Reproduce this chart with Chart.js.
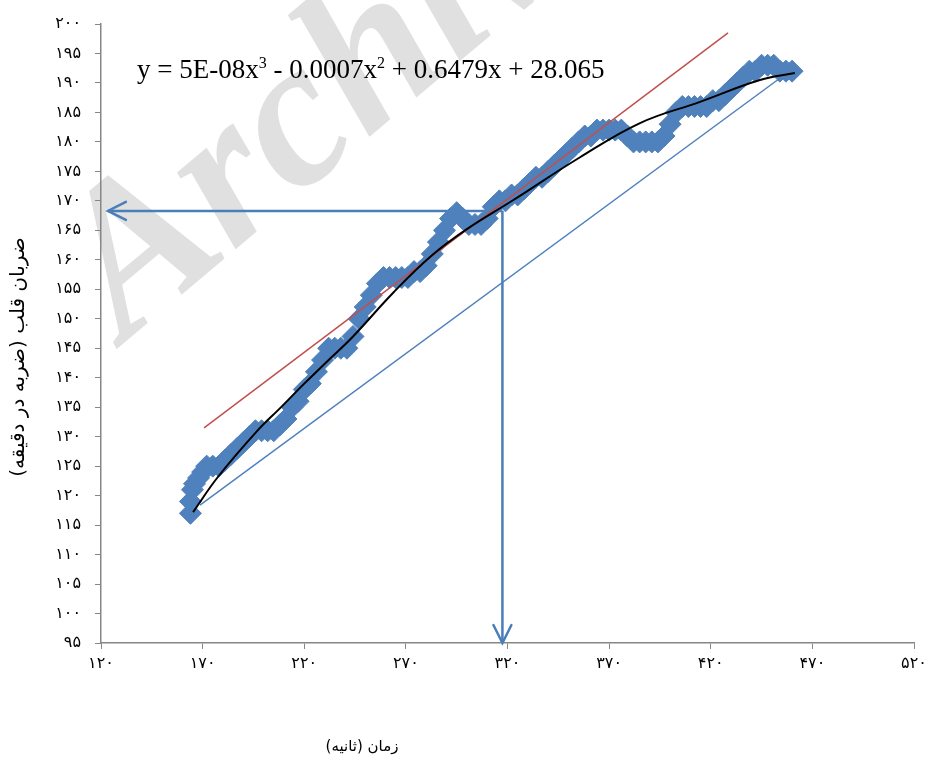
<!DOCTYPE html>
<html lang="fa">
<head>
<meta charset="utf-8">
<title>ضربان قلب - زمان</title>
<script src="https://cdn.jsdelivr.net/npm/chart.js@4.4.1/dist/chart.umd.min.js"></script>
<style>
  html, body { margin: 0; padding: 0; background: #fff; }
  canvas { display: block; }
</style>
</head>
<body>
<canvas id="hrChart" width="927" height="762"></canvas>
<script>
// heart rate samples (time in s, beats/min)
const timeSec = [164, 164, 165, 166, 168, 170, 172, 175, 178, 181, 184, 187, 190, 193, 196, 199, 202, 205,
  208, 211, 214, 217, 220, 223, 226, 229, 232, 235, 238, 241, 244, 247, 250, 253, 256, 259, 262, 265,
  268, 271, 274, 277, 280, 283, 286, 289, 292, 295, 298, 301, 304, 307, 310, 313, 316, 319, 322, 325,
  328, 331, 334, 337, 340, 343, 346, 349, 352, 355, 358, 361, 364, 367, 370, 373, 376, 379, 382, 385,
  388, 391, 394, 397, 400, 403, 406, 409, 412, 415, 418, 421, 424, 427, 430, 433, 436, 439, 442, 445,
  448, 451, 454, 457, 460];
const heartRate = [117, 119, 121, 122, 123, 124, 125, 125, 125, 126, 127, 128, 129, 130, 131, 131, 131, 131,
  132, 133, 135, 136, 138, 139, 141, 143, 145, 145, 145, 145, 147, 150, 152, 154, 156, 157, 157, 157,
  157, 157, 158, 158, 159, 161, 163, 165, 167, 168, 167, 166, 166, 166, 167, 169, 170, 170, 171, 171,
  172, 173, 174, 174, 175, 176, 177, 178, 179, 180, 181, 181, 182, 182, 182, 182, 182, 181, 180, 180,
  180, 180, 180, 181, 183, 185, 186, 186, 186, 186, 186, 187, 187, 188, 189, 190, 191, 192, 192, 193,
  193, 193, 192, 192, 192];

// black poly trend line
const trendX = [165.3, 177.6, 197.2, 208, 220, 232, 244, 264, 283, 300, 322.7, 355.7, 385.2, 414.7, 444.2, 461.4];
const trendY = [117.2, 123.2, 131.1, 134.8, 139, 143, 147, 154.5, 160.8, 165.2, 170.1, 177.4, 183.2, 186.8, 190.5, 191.7];

// the two straight guide lines
const redLineX = [170.7, 428.5];
const redLineY = [131.5, 198.5];
const blueLineX = [168.7, 454];
const blueLineY = [118.4, 190.8];

// reading arrows (168 bpm at ~318 s)
const arrowX = [317.5, 123.4];
const arrowY = [168.3, 95];

const xTicks = [120, 170, 220, 270, 320, 370, 420, 470, 520];
const yTicks = [95, 100, 105, 110, 115, 120, 125, 130, 135, 140, 145, 150, 155, 160, 165, 170, 175, 180, 185, 190, 195, 200];

const xTitle = 'زمان (ثانیه)';
const yTitle = 'ضربان قلب (ضربه در دقیقه)';
const equation = [['y = 5E-08x', false], ['3', true], [' - 0.0007x', false], ['2', true], [' + 0.6479x + 28.065', false]];

const BLUE = '#4f81bd';
const ARROW_BLUE = '#4a7ebb';
const AXIS_GRAY = '#868686';
const faDigits = '۰۱۲۳۴۵۶۷۸۹';
const fa = n => String(n).replace(/\d/g, d => faDigits[d]);

const toPoints = (xs, ys) => xs.map((x, i) => ({ x: x, y: ys[i] }));

// faint watermark behind everything
const watermark = {
  id: 'watermark',
  beforeDraw(chart) {
    const ctx = chart.ctx;
    ctx.save();
    ctx.translate(125, 342);
    ctx.rotate(-40 * Math.PI / 180);
    ctx.font = 'italic bold 210px "Liberation Serif"';
    ctx.fillStyle = '#e0e0e0';
    ctx.fillText('Archive', 0, 0);
    ctx.restore();
  }
};

// arrow heads, equation label and axis titles
const extras = {
  id: 'extras',
  afterDatasetsDraw(chart) {
    const ctx = chart.ctx;
    const xs = chart.scales.x, ys = chart.scales.y;
    const cx = xs.getPixelForValue(arrowX[0]);
    const cy = ys.getPixelForValue(arrowY[0]);
    const leftTip = xs.getPixelForValue(arrowX[1]);
    const bottomTip = ys.getPixelForValue(arrowY[1]);
    ctx.save();
    ctx.strokeStyle = ARROW_BLUE;
    ctx.lineWidth = 2.5;
    ctx.lineCap = 'round';
    ctx.beginPath();
    ctx.moveTo(leftTip + 18, cy - 9);
    ctx.lineTo(leftTip, cy);
    ctx.lineTo(leftTip + 18, cy + 9);
    ctx.moveTo(cx - 9, bottomTip - 18);
    ctx.lineTo(cx, bottomTip);
    ctx.lineTo(cx + 9, bottomTip - 18);
    ctx.stroke();

    // trend equation
    let x = xs.getPixelForValue(137.7);
    const base = ys.getPixelForValue(190.9);
    ctx.fillStyle = '#000';
    ctx.textBaseline = 'alphabetic';
    equation.forEach(([txt, sup]) => {
      ctx.font = sup ? '16px "Liberation Serif"' : '27px "Liberation Serif"';
      ctx.fillText(txt, x, sup ? base - 10 : base);
      x += ctx.measureText(txt).width;
    });

    // axis titles (sit off-centre in the original)
    ctx.textAlign = 'center';
    ctx.textBaseline = 'middle';
    ctx.font = '15px "DejaVu Sans"';
    ctx.fillText(xTitle, 362, 747);
    ctx.translate(19, 357);
    ctx.rotate(-Math.PI / 2);
    ctx.font = '20px "DejaVu Sans"';
    ctx.fillText(yTitle, 0, 0);
    ctx.restore();
  }
};

new Chart(document.getElementById('hrChart'), {
  type: 'scatter',
  data: {
    datasets: [
      {
        label: 'trend',
        data: toPoints(trendX, trendY),
        showLine: true,
        borderColor: '#000',
        borderWidth: 2,
        pointRadius: 0,
        tension: 0.4,
        order: 0
      },
      {
        label: 'red',
        data: toPoints(redLineX, redLineY),
        showLine: true,
        borderColor: '#c0504d',
        borderWidth: 1.5,
        pointRadius: 0,
        order: 1
      },
      {
        label: 'hr',
        data: toPoints(timeSec, heartRate),
        pointStyle: 'rectRot',
        pointRadius: 11,
        backgroundColor: BLUE,
        borderColor: BLUE,
        borderWidth: 1,
        order: 2
      },
      {
        label: 'blue',
        data: toPoints(blueLineX, blueLineY),
        showLine: true,
        borderColor: BLUE,
        borderWidth: 1.5,
        pointRadius: 0,
        order: 3
      },
      {
        label: 'arrowH',
        data: [{ x: arrowX[0], y: arrowY[0] }, { x: arrowX[1], y: arrowY[0] }],
        showLine: true,
        borderColor: ARROW_BLUE,
        borderWidth: 2.5,
        pointRadius: 0,
        order: 4
      },
      {
        label: 'arrowV',
        data: [{ x: arrowX[0], y: arrowY[0] }, { x: arrowX[0], y: arrowY[1] }],
        showLine: true,
        borderColor: ARROW_BLUE,
        borderWidth: 2.5,
        pointRadius: 0,
        order: 4
      }
    ]
  },
  options: {
    responsive: false,
    animation: false,
    devicePixelRatio: 1,
    layout: { padding: { top: 24, right: 13, left: 0, bottom: 0 } },
    plugins: {
      legend: { display: false },
      tooltip: { enabled: false }
    },
    scales: {
      x: {
        type: 'linear',
        min: 120,
        max: 520,
        afterBuildTicks: s => { s.ticks = xTicks.map(v => ({ value: v })); },
        afterFit: s => { s.height = 119; s.paddingLeft = 0; s.paddingRight = 0; },
        border: { color: AXIS_GRAY, width: 1.5 },
        grid: { drawOnChartArea: false, color: AXIS_GRAY, tickLength: 6 },
        ticks: {
          color: '#000',
          padding: 5,
          maxRotation: 0,
          font: { family: 'DejaVu Sans', size: 16 },
          callback: v => fa(v)
        }
      },
      y: {
        type: 'linear',
        min: 95,
        max: 200,
        afterBuildTicks: s => { s.ticks = yTicks.map(v => ({ value: v })); },
        afterFit: s => { s.width = 101; s.paddingTop = 0; s.paddingBottom = 0; },
        border: { color: AXIS_GRAY, width: 1.5 },
        grid: { drawOnChartArea: false, color: AXIS_GRAY, tickLength: 6 },
        ticks: {
          color: '#000',
          padding: 14,
          font: { family: 'DejaVu Sans', size: 16 },
          callback: v => fa(v)
        }
      }
    }
  },
  plugins: [watermark, extras]
});
</script>
</body>
</html>
